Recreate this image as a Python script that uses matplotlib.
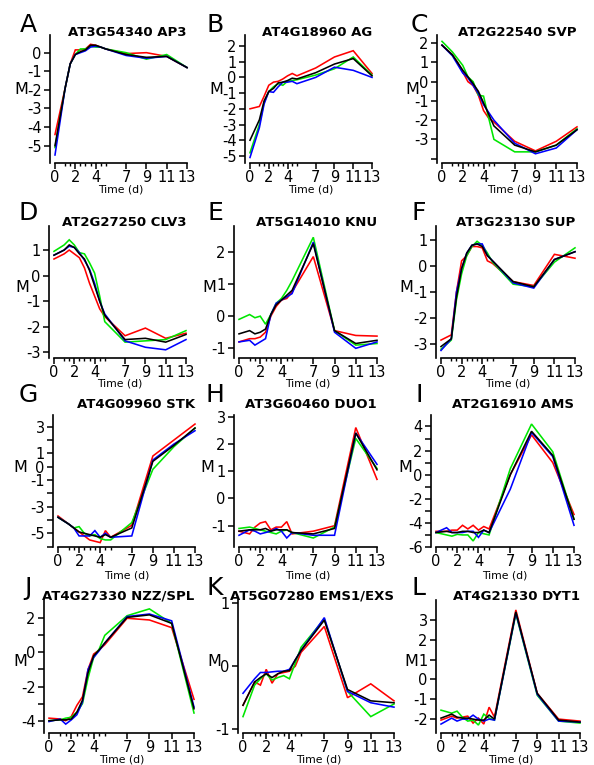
import matplotlib
matplotlib.use('Agg')
import matplotlib.pyplot as plt

plt.rcParams['font.family'] = 'DejaVu Sans'
plt.rcParams['axes.unicode_minus'] = False

# ---------------- data ----------------
times = [0, 1, 1.5, 2, 2.5, 3, 3.5, 4, 4.5, 5, 7, 9, 11, 13]
x_major = [0, 2, 4, 7, 9, 11, 13]
x_minor = [1, 1.5, 2.5, 3, 3.5, 4.5, 5]

letters = ['A', 'B', 'C', 'D', 'E', 'F', 'G', 'H', 'I', 'J', 'K', 'L']
titles = ['AT3G54340 AP3', 'AT4G18960 AG', 'AT2G22540 SVP',
          'AT2G27250 CLV3', 'AT5G14010 KNU', 'AT3G23130 SUP',
          'AT4G09960 STK', 'AT3G60460 DUO1', 'AT2G16910 AMS',
          'AT4G27330 NZZ/SPL', 'AT5G07280 EMS1/EXS', 'AT4G21330 DYT1']

AP3_red   = [-4.4, -1.9, -0.6, 0.15, 0.15, 0.2, 0.45, 0.4, 0.3, 0.2, -0.05, 0.0, -0.2, -0.8]
AP3_green = [-5.1, -1.9, -0.6, -0.1, 0.2, 0.2, 0.35, 0.3, 0.3, 0.2, 0.0, -0.35, -0.1, -0.8]
AP3_blue  = [-5.5, -1.9, -0.6, -0.1, 0.0, 0.1, 0.3, 0.35, 0.3, 0.2, -0.15, -0.3, -0.2, -0.8]
AP3_black = [-5.0, -1.9, -0.6, -0.1, 0.05, 0.15, 0.4, 0.4, 0.3, 0.2, -0.1, -0.25, -0.2, -0.8]

AG_red   = [-2.0, -1.85, -1.2, -0.5, -0.3, -0.25, -0.1, 0.1, 0.25, 0.1, 0.6, 1.3, 1.7, 0.25]
AG_green = [-4.8, -3.0, -1.6, -0.9, -0.6, -0.4, -0.5, -0.25, -0.2, -0.15, 0.15, 0.55, 1.3, 0.15]
AG_blue  = [-5.1, -3.2, -1.7, -0.9, -0.95, -0.6, -0.3, -0.3, -0.25, -0.4, 0.0, 0.65, 0.45, 0.0]
AG_black = [-4.0, -2.7, -1.5, -0.9, -0.7, -0.35, -0.3, -0.2, -0.05, -0.1, 0.3, 0.85, 1.2, 0.1]

SVP_red   = [1.9, 1.4, 1.0, 0.5, 0.0, -0.2, -0.7, -1.5, -1.9, -2.1, -3.1, -3.6, -3.1, -2.35]
SVP_green = [2.1, 1.55, 1.2, 0.85, 0.25, 0.0, -0.7, -0.75, -1.9, -3.0, -3.65, -3.65, -3.3, -2.45]
SVP_blue  = [1.9, 1.35, 0.9, 0.45, 0.2, -0.2, -0.6, -1.2, -1.6, -2.0, -3.2, -3.75, -3.45, -2.5]
SVP_black = [1.9, 1.4, 1.0, 0.6, 0.25, -0.1, -0.5, -1.1, -1.7, -2.3, -3.3, -3.65, -3.3, -2.5]

CLV3_red   = [0.65, 0.85, 1.0, 0.85, 0.7, 0.3, -0.3, -0.8, -1.3, -1.6, -2.35, -2.05, -2.45, -2.25]
CLV3_green = [0.95, 1.2, 1.4, 1.2, 0.9, 0.85, 0.5, 0.1, -0.8, -1.8, -2.6, -2.55, -2.5, -2.15]
CLV3_blue  = [0.8, 1.0, 1.15, 1.1, 0.9, 0.6, 0.25, -0.3, -1.0, -1.5, -2.55, -2.8, -2.9, -2.5]
CLV3_black = [0.8, 1.0, 1.2, 1.1, 0.85, 0.65, 0.2, -0.4, -1.0, -1.55, -2.5, -2.45, -2.6, -2.3]

KNU_red   = [-0.8, -0.7, -0.7, -0.65, -0.5, 0.0, 0.3, 0.5, 0.55, 0.75, 1.85, -0.45, -0.6, -0.62]
KNU_green = [-0.1, 0.05, -0.05, 0.0, -0.25, 0.05, 0.4, 0.55, 0.8, 1.1, 2.45, -0.45, -0.9, -0.85]
KNU_blue  = [-0.8, -0.75, -0.9, -0.8, -0.7, 0.05, 0.4, 0.5, 0.6, 0.7, 2.3, -0.5, -1.0, -0.8]
KNU_black = [-0.55, -0.45, -0.55, -0.5, -0.4, 0.05, 0.35, 0.5, 0.65, 0.8, 2.25, -0.45, -0.85, -0.75]

SUP_red   = [-2.85, -2.65, -1.0, 0.2, 0.4, 0.75, 0.75, 0.7, 0.2, 0.1, -0.6, -0.75, 0.45, 0.3]
SUP_green = [-3.2, -2.85, -1.3, -0.3, 0.4, 0.75, 0.95, 0.8, 0.5, 0.15, -0.7, -0.8, 0.15, 0.7]
SUP_blue  = [-3.25, -2.8, -1.0, -0.1, 0.5, 0.8, 0.85, 0.85, 0.4, 0.2, -0.65, -0.85, 0.25, 0.55]
SUP_black = [-3.1, -2.8, -1.2, -0.1, 0.5, 0.8, 0.85, 0.75, 0.4, 0.2, -0.6, -0.8, 0.25, 0.55]

STK_red   = [-3.7, -4.3, -4.6, -4.9, -5.2, -5.5, -5.6, -5.7, -4.8, -5.3, -4.4, 0.8, 2.0, 3.2]
STK_green = [-3.8, -4.3, -4.6, -4.5, -5.0, -5.2, -5.1, -5.4, -5.5, -5.5, -4.2, -0.2, 1.5, 2.9]
STK_blue  = [-3.8, -4.3, -4.6, -5.2, -5.2, -5.2, -4.8, -5.3, -5.0, -5.3, -5.2, 0.5, 1.7, 2.7]
STK_black = [-3.8, -4.3, -4.6, -4.9, -5.0, -5.1, -5.2, -5.3, -5.1, -5.3, -4.6, 0.4, 1.6, 2.9]

DUO1_red   = [-1.2, -1.3, -1.05, -0.9, -0.85, -1.15, -1.05, -1.05, -0.85, -1.3, -1.2, -1.0, 2.6, 0.7]
DUO1_green = [-1.1, -1.05, -1.1, -1.15, -1.2, -1.25, -1.3, -1.2, -1.15, -1.25, -1.45, -1.05, 2.2, 1.1]
DUO1_blue  = [-1.35, -1.15, -1.2, -1.3, -1.25, -1.2, -1.1, -1.2, -1.45, -1.25, -1.35, -1.35, 2.4, 1.25]
DUO1_black = [-1.2, -1.15, -1.15, -1.15, -1.1, -1.2, -1.15, -1.15, -1.15, -1.25, -1.3, -1.1, 2.4, 1.05]

AMS_red   = [-4.7, -4.7, -4.6, -4.6, -4.2, -4.5, -4.2, -4.6, -4.3, -4.5, 0.0, 3.3, 1.0, -3.3]
AMS_green = [-4.8, -5.0, -5.1, -4.95, -5.0, -5.0, -5.5, -4.8, -4.9, -5.0, 0.5, 4.2, 1.9, -3.7]
AMS_blue  = [-4.8, -4.4, -4.8, -4.8, -4.8, -4.7, -4.7, -5.2, -4.6, -4.8, -1.2, 3.5, 1.5, -4.2]
AMS_black = [-4.8, -4.7, -4.8, -4.8, -4.7, -4.7, -4.8, -4.8, -4.6, -4.8, 0.0, 3.6, 1.6, -3.7]

NZZ_red   = [-3.85, -3.9, -4.0, -3.75, -3.1, -2.6, -1.0, -0.1, 0.15, 0.45, 2.0, 1.9, 1.45, -2.75]
NZZ_green = [-4.0, -3.95, -3.85, -3.8, -3.5, -3.0, -1.5, -0.3, 0.2, 1.0, 2.15, 2.55, 1.7, -3.55]
NZZ_blue  = [-4.05, -3.9, -4.2, -3.95, -3.65, -2.9, -1.0, -0.3, 0.1, 0.55, 2.1, 2.25, 1.85, -3.2]
NZZ_black = [-4.0, -3.95, -3.95, -3.9, -3.5, -2.8, -1.2, -0.2, 0.15, 0.55, 2.05, 2.2, 1.7, -3.3]

EMS1_red   = [-0.62, -0.25, -0.3, -0.05, -0.27, -0.12, -0.1, -0.08, 0.0, 0.22, 0.63, -0.5, -0.28, -0.55]
EMS1_green = [-0.8, -0.3, -0.2, -0.12, -0.22, -0.18, -0.15, -0.2, 0.05, 0.3, 0.75, -0.4, -0.8, -0.6]
EMS1_blue  = [-0.43, -0.2, -0.1, -0.1, -0.09, -0.08, -0.08, -0.05, 0.1, 0.25, 0.77, -0.4, -0.58, -0.65]
EMS1_black = [-0.62, -0.25, -0.18, -0.12, -0.18, -0.12, -0.08, -0.07, 0.1, 0.25, 0.73, -0.37, -0.55, -0.58]

DYT1_red   = [-2.05, -1.85, -1.95, -1.9, -1.85, -2.2, -1.95, -2.25, -1.4, -1.9, 3.5, -0.7, -2.0, -2.1]
DYT1_green = [-1.55, -1.7, -1.6, -1.9, -2.1, -2.05, -2.3, -1.75, -1.95, -2.05, 3.3, -0.8, -2.1, -2.2]
DYT1_blue  = [-2.25, -1.95, -2.1, -2.0, -2.0, -1.8, -2.0, -2.1, -2.0, -2.05, 3.35, -0.75, -2.1, -2.15]
DYT1_black = [-1.95, -1.75, -1.9, -1.95, -1.95, -2.0, -2.05, -2.05, -1.8, -2.0, 3.4, -0.7, -2.05, -2.15]

series = [
    (AP3_red, AP3_green, AP3_blue, AP3_black),
    (AG_red, AG_green, AG_blue, AG_black),
    (SVP_red, SVP_green, SVP_blue, SVP_black),
    (CLV3_red, CLV3_green, CLV3_blue, CLV3_black),
    (KNU_red, KNU_green, KNU_blue, KNU_black),
    (SUP_red, SUP_green, SUP_blue, SUP_black),
    (STK_red, STK_green, STK_blue, STK_black),
    (DUO1_red, DUO1_green, DUO1_blue, DUO1_black),
    (AMS_red, AMS_green, AMS_blue, AMS_black),
    (NZZ_red, NZZ_green, NZZ_blue, NZZ_black),
    (EMS1_red, EMS1_green, EMS1_blue, EMS1_black),
    (DYT1_red, DYT1_green, DYT1_blue, DYT1_black),
]
colors = ['#ff0000', '#00e600', '#0000ff', '#000000']

# y ticks (positions) and which are labelled
ytick_pos = [
    [0, -1, -2, -3, -4, -5],
    [2, 1, 0, -1, -2, -3, -4, -5],
    [2, 1, 0, -1, -2, -3, -4],
    [1, 0, -1, -2, -3],
    [2, 1, 0, -1],
    [1, 0, -1, -2, -3],
    [3, 2, 1, 0, -1, -2, -3, -4, -5, -6],
    [3, 2, 1, 0, -1],
    [4, 3, 2, 1, 0, -1, -2, -3, -4, -5, -6],
    [2, 1, 0, -1, -2, -3, -4],
    [1, 0, -1],
    [3, 2, 1, 0, -1, -2],
]
ytick_lab = [
    ['0', '-1', '-2', '-3', '-4', '-5'],
    ['2', '1', '0', '-1', '-2', '-3', '-4', '-5'],
    ['2', '1', '0', '-1', '-2', '-3', ''],
    ['1', '0', '-1', '-2', '-3'],
    ['2', '1', '0', '-1'],
    ['1', '0', '-1', '-2', '-3'],
    ['3', '', '1', '0', '-1', '', '-3', '', '-5', ''],
    ['3', '2', '1', '0', '-1'],
    ['4', '', '2', '', '0', '', '-2', '', '-4', '', '-6'],
    ['2', '', '0', '', '-2', '', '-4'],
    ['1', '0', '-1'],
    ['3', '2', '1', '0', '-1', '-2'],
]

# ---------------- layout (pixels) ----------------
W, H = 594, 765
ylims = [(-5.93, 0.95), (-5.45, 2.7), (-4.23, 2.43),
         (-3.22, 1.94), (-1.3, 2.8), (-3.54, 1.54),
         (-6.03, 3.88), (-1.78, 3.06), (-6.0, 4.95),
         (-4.72, 3.07), (-1.06, 1.05), (-2.7, 4.0)]
spine_px = [50, 245, 437, 49, 234, 436, 53, 234, 431, 44, 238, 436]
x13_px = [187, 372, 577, 186, 377, 575, 195, 377, 574, 194, 394, 580]
row_top = [35, 226, 415, 600]
row_bot = [163, 358, 547, 733]
title_y = [33, 222, 405, 596]
letter_y = [25, 213, 395, 588]
letter_x = [28, 215, 419]
M_y = [90, 287, 467, 661]
M_x = [21, 216, 412, 22, 209, 406, 20, 207, 405, 20, 214, 411]
time_y = [189, 384, 576, 759]

fig = plt.figure(figsize=(W / 100, H / 100), dpi=100)

for i in range(12):
    r, c = divmod(i, 3)
    sp = spine_px[i]
    x0 = sp + 5
    ppd = (x13_px[i] - x0) / 13.0
    right = x13_px[i] + 0.15 * ppd
    top, bot = row_top[r], row_bot[r]
    ax = fig.add_axes([sp / W, 1 - bot / H, (right - sp) / W, (bot - top) / H])
    ax.set_xlim(-5 / ppd, 13.15)
    ax.set_ylim(*ylims[i])
    for vals, col in zip(series[i], colors):
        ax.plot(times, vals, color=col, lw=1.15, solid_joinstyle='miter')
    for s in ['top', 'right']:
        ax.spines[s].set_visible(False)
    ax.spines['bottom'].set_bounds(0, 13)
    ax.spines['left'].set_linewidth(1.2)
    ax.spines['bottom'].set_linewidth(1.2)
    ax.set_xticks(x_major)
    ax.set_xticklabels([str(v) for v in x_major])
    ax.set_xticks(x_minor, minor=True)
    ax.set_yticks(ytick_pos[i])
    ax.set_yticklabels(ytick_lab[i])
    ax.tick_params(axis='both', which='major', labelsize=10.5, length=4, width=1.1)
    ax.tick_params(axis='y', which='major', pad=2)
    ax.tick_params(axis='x', which='major', pad=1)
    ax.tick_params(axis='x', which='minor', length=2.5, width=1.0)
    fig.text(x13_px[i] / W, 1 - title_y[r] / H, titles[i], ha='right', va='center',
             fontsize=9.5, fontweight='bold')
    fig.text(letter_x[c] / W, 1 - letter_y[r] / H, letters[i],
             ha='center', va='center', fontsize=18)
    fig.text(M_x[i] / W, 1 - M_y[r] / H, 'M', ha='center', va='center', fontsize=11.5)
    fig.text((x0 + x13_px[i]) / 2 / W, 1 - time_y[r] / H, 'Time (d)', ha='center',
             va='center', fontsize=7.8)

fig.savefig('out.png', dpi=100)
